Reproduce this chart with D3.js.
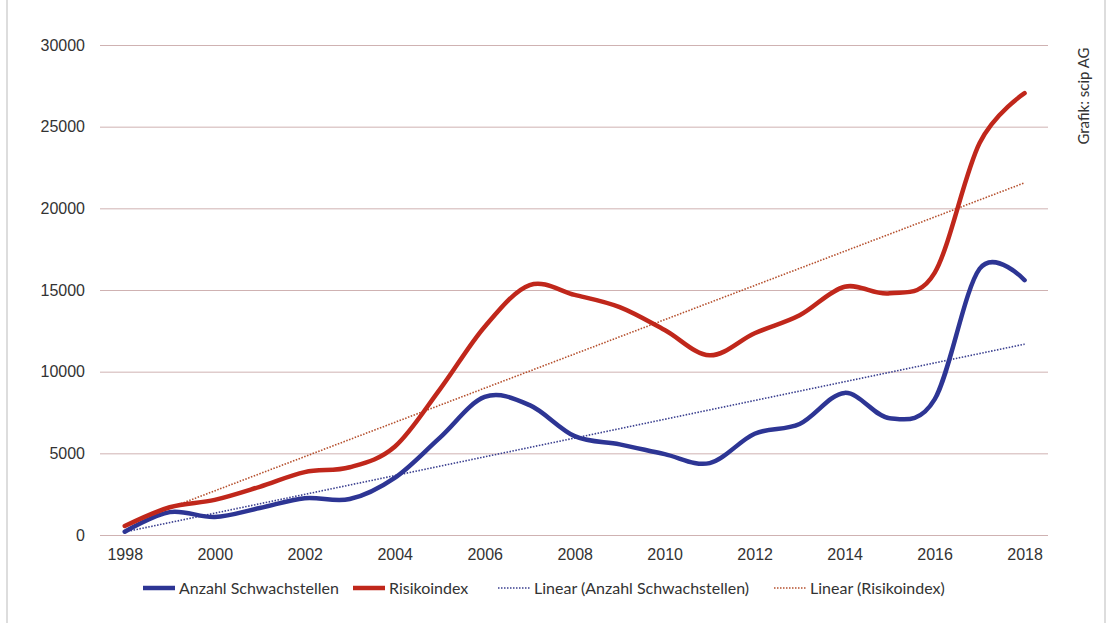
<!DOCTYPE html>
<html>
<head>
<meta charset="utf-8">
<script src="https://cdn.jsdelivr.net/npm/d3@7"></script>
<style>
  body { margin: 0; background: #fff; }
  svg { display: block; font-family: Lato, "Open Sans", sans-serif; }
  .axis text { font-size: 16px; fill: #333; }
  .axis path, .axis line { stroke: none; }
  .grid line { stroke: #cfb2b2; stroke-width: 1; }
  .grid path { stroke: none; }
</style>
</head>
<body>
<svg id="chart" width="1109" height="623"></svg>
<script>
// values
var years = d3.range(1998, 2019);
var anzahl = [200, 1400, 1100, 1650, 2250, 2200, 3500, 5950, 8450, 7950, 6050,
              5550, 4950, 4400, 6200, 6800, 8700, 7150, 8300, 16300, 15600];
var risiko = [550, 1700, 2150, 2950, 3850, 4150, 5400, 8900, 12750, 15300, 14700,
              13950, 12550, 11000, 12350, 13450, 15200, 14800, 16050, 24000, 27050];
var y_ticks = [0, 5000, 10000, 15000, 20000, 25000, 30000];
var x_ticks = [1998, 2000, 2002, 2004, 2006, 2008, 2010, 2012, 2014, 2016, 2018];
var legend_labels = ["Anzahl Schwachstellen", "Risikoindex",
                     "Linear (Anzahl Schwachstellen)", "Linear (Risikoindex)"];

var blue = "#2d3594";
var red = "#c0271b";

var margin = { top: 45, right: 61, bottom: 88, left: 100 };
var width = 1109 - margin.left - margin.right;
var height = 623 - margin.top - margin.bottom;

var svg = d3.select("#chart");

// scanned page edges
svg.append("line").attr("x1", 7).attr("x2", 7).attr("y1", 0).attr("y2", 623)
    .attr("stroke", "#bbb").attr("stroke-width", 1);
svg.append("line").attr("x1", 1105).attr("x2", 1105).attr("y1", 0).attr("y2", 623)
    .attr("stroke", "#bbb").attr("stroke-width", 1);

var g = svg.append("g")
    .attr("transform", "translate(" + margin.left + "," + margin.top + ")");

var x = d3.scaleLinear().domain([1997.45, 2018.52]).range([0, width]);
var y = d3.scaleLinear().domain([0, 30000]).range([height, 0]);

// gridlines
g.append("g")
    .attr("class", "grid")
    .call(d3.axisLeft(y).tickValues(y_ticks).tickSize(-width).tickFormat(""));

// y axis labels
g.append("g")
    .attr("class", "axis")
    .call(d3.axisLeft(y).tickValues(y_ticks).tickFormat(d3.format("d")).tickSize(0).tickPadding(15));

// x axis labels
g.append("g")
    .attr("class", "axis")
    .attr("transform", "translate(0," + height + ")")
    .call(d3.axisBottom(x).tickValues(x_ticks).tickFormat(d3.format("d")).tickSize(0).tickPadding(14));

// least squares trend lines (as "Linear (...)" in the original)
function trend(vals) {
    var mx = d3.mean(years), my = d3.mean(vals);
    var sxy = d3.sum(years, function (d, i) { return (d - mx) * (vals[i] - my); });
    var sxx = d3.sum(years, function (d) { return (d - mx) * (d - mx); });
    var b = sxy / sxx;
    var a = my - b * mx;
    return [years[0], years[years.length - 1]].map(function (t) { return { x: t, y: a + b * t }; });
}

var straight = d3.line()
    .x(function (d) { return x(d.x); })
    .y(function (d) { return y(d.y); });

g.append("path")
    .datum(trend(anzahl))
    .attr("d", straight)
    .attr("fill", "none")
    .attr("stroke", "#3a3f8f")
    .attr("stroke-width", 1.6)
    .attr("stroke-dasharray", "1.5,1.5");

g.append("path")
    .datum(trend(risiko))
    .attr("d", straight)
    .attr("fill", "none")
    .attr("stroke", "#b5502e")
    .attr("stroke-width", 1.6)
    .attr("stroke-dasharray", "1.5,1.5");

var smooth = d3.line()
    .curve(d3.curveCardinal.tension(0))
    .x(function (d, i) { return x(years[i]); })
    .y(function (d) { return y(d); });

g.append("path")
    .datum(anzahl)
    .attr("d", smooth)
    .attr("fill", "none")
    .attr("stroke", blue)
    .attr("stroke-width", 4.5)
    .attr("stroke-linecap", "round");

g.append("path")
    .datum(risiko)
    .attr("d", smooth)
    .attr("fill", "none")
    .attr("stroke", red)
    .attr("stroke-width", 4.5)
    .attr("stroke-linecap", "round");

// legend
var legend_items = [
    { x: 143, color: blue, w: 4.5, dash: null },
    { x: 353, color: red, w: 4.5, dash: null },
    { x: 498, color: "#3a3f8f", w: 1.6, dash: "1.5,1.5" },
    { x: 774, color: "#b5502e", w: 1.6, dash: "1.5,1.5" }
];
var legend = svg.append("g").attr("transform", "translate(0,588)");
legend_items.forEach(function (it, i) {
    legend.append("line")
        .attr("x1", it.x).attr("x2", it.x + 32)
        .attr("y1", 0).attr("y2", 0)
        .attr("stroke", it.color)
        .attr("stroke-width", it.w)
        .attr("stroke-dasharray", it.dash);
    legend.append("text")
        .attr("x", it.x + 36)
        .attr("y", 6)
        .attr("font-size", "16px")
        .attr("fill", "#333")
        .text(legend_labels[i]);
});

// source note
svg.append("text")
    .attr("transform", "translate(1089,96) rotate(-90)")
    .attr("text-anchor", "middle")
    .attr("font-size", "15px")
    .attr("fill", "#333")
    .text("Grafik: scip AG");
</script>
</body>
</html>
